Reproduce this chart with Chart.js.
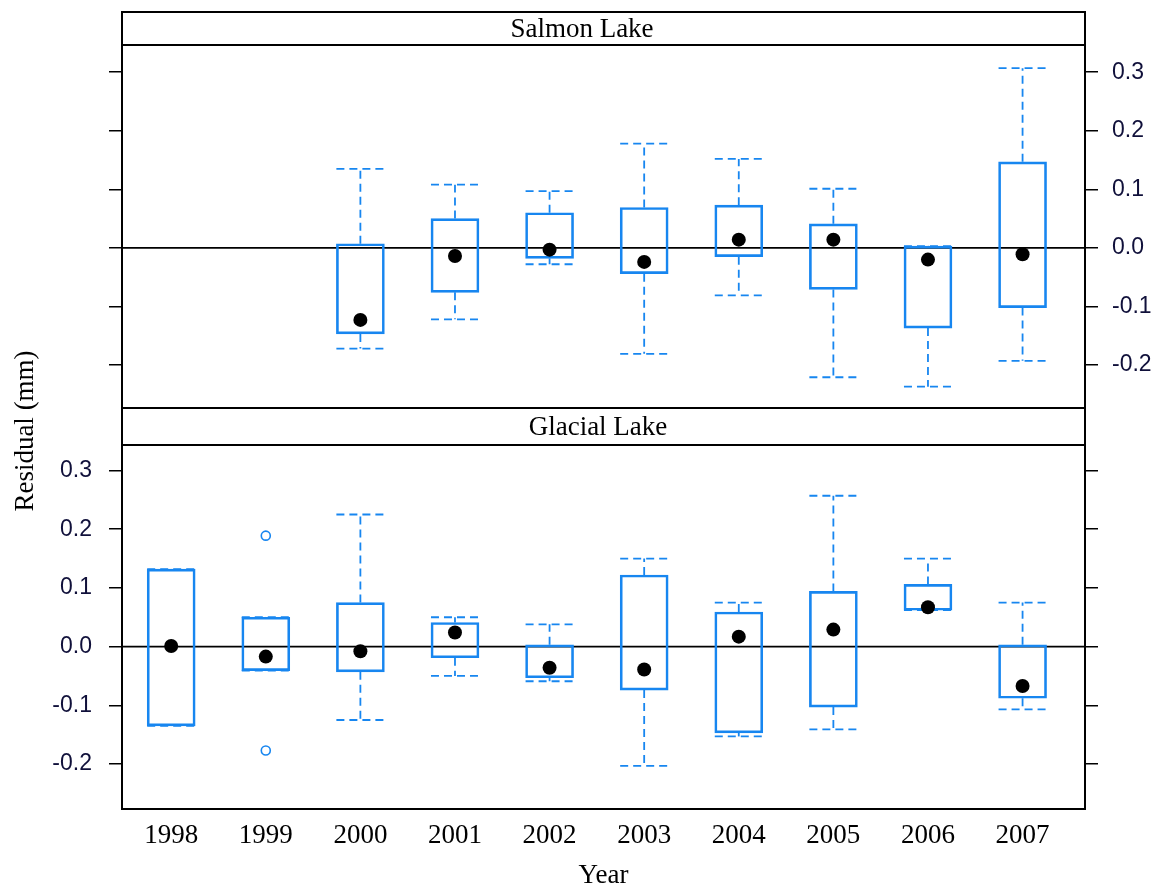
<!DOCTYPE html>
<html>
<head>
<meta charset="utf-8">
<script src="https://cdn.jsdelivr.net/npm/chart.js@4.4.1/dist/chart.umd.min.js"></script>
<style>
html, body { margin: 0; padding: 0; background: #ffffff; }
#wrap { position: relative; width: 1157px; height: 888px; }
#wrap canvas { position: absolute; left: 0; top: 0; }
</style>
</head>
<body>
<div id="wrap">
  <canvas id="cBottom" width="1157" height="888"></canvas>
  <canvas id="cTop" width="1157" height="888"></canvas>
</div>
<script>
// ---------------- data ----------------
const years = [1998, 1999, 2000, 2001, 2002, 2003, 2004, 2005, 2006, 2007];
const yTickValues = [-0.2, -0.1, 0.0, 0.1, 0.2, 0.3];
const yTickLabels = ['-0.2', '-0.1', '0.0', '0.1', '0.2', '0.3'];
const panelNames = ['Salmon Lake', 'Glacial Lake'];
const xTitle = 'Year';
const yTitle = 'Residual (mm)';

// Salmon Lake (no data for 1998, 1999)
const salmonMin  = [null, null, -0.172, -0.122, -0.028, -0.181, -0.081, -0.221, -0.237, -0.193];
const salmonQ1   = [null, null, -0.147, -0.076, -0.018, -0.044, -0.015, -0.071, -0.137, -0.102];
const salmonQ3   = [null, null,  0.007,  0.050,  0.060,  0.069,  0.073,  0.041,  0.003,  0.147];
const salmonMax  = [null, null,  0.135,  0.108,  0.097,  0.178,  0.152,  0.101,  0.003,  0.307];
const salmonMean = [null, null, -0.123, -0.014, -0.003, -0.024,  0.014,  0.014, -0.020, -0.011];

// Glacial Lake
const glacialMin  = [-0.135, -0.041, -0.125, -0.050, -0.059, -0.203, -0.153, -0.141, 0.062, -0.107];
const glacialQ1   = [-0.135, -0.041, -0.043, -0.019, -0.053, -0.074, -0.147, -0.103, 0.062, -0.088];
const glacialQ3   = [ 0.132,  0.050,  0.075,  0.041,  0.003,  0.122,  0.059,  0.094, 0.106,  0.003];
const glacialMax  = [ 0.132,  0.050,  0.225,  0.050,  0.038,  0.150,  0.075,  0.257, 0.150,  0.075];
const glacialMean = [ 0.001, -0.017, -0.008,  0.024, -0.036, -0.039,  0.017,  0.029, 0.067, -0.067];
const glacialOutlierYears  = [1999, 1999];
const glacialOutlierValues = [0.189, -0.177];

// ---------------- style ----------------
const BLUE = '#1786f0';
const BOX_W = 48;
const X_MIN = 1997.48, X_MAX = 2007.66;
const SERIF = '"Liberation Serif", "Times New Roman", serif';
const SANS = '"Liberation Sans", Arial, sans-serif';
const TICK_COLOR = '#10103a';

function boxData(q1, q3) {
  const out = [];
  years.forEach((yr, i) => { if (q1[i] != null) out.push({ x: yr, y: [q1[i], q3[i]] }); });
  return out;
}
function pointData(vals) {
  const out = [];
  years.forEach((yr, i) => { if (vals[i] != null) out.push({ x: yr, y: vals[i] }); });
  return out;
}

function panelPlugin(spec) {
  return {
    id: 'panel_' + spec.key,
    beforeDatasetsDraw(chart) {
      const { ctx, chartArea: a } = chart;
      const xs = chart.scales.x, ys = chart.scales.y;
      ctx.save();
      // reference line at zero
      ctx.strokeStyle = '#000';
      ctx.lineWidth = 1.6;
      const y0 = ys.getPixelForValue(0);
      ctx.beginPath(); ctx.moveTo(a.left, y0); ctx.lineTo(a.right, y0); ctx.stroke();
      // whiskers
      ctx.strokeStyle = BLUE;
      ctx.lineWidth = 1.8;
      ctx.setLineDash([8, 5]);
      years.forEach((yr, i) => {
        if (spec.q1[i] == null) return;
        const px = xs.getPixelForValue(yr);
        [[spec.q1[i], spec.min[i]], [spec.q3[i], spec.max[i]]].forEach(([h, w]) => {
          const ph = ys.getPixelForValue(h), pw = ys.getPixelForValue(w);
          ctx.beginPath(); ctx.moveTo(px, ph); ctx.lineTo(px, pw); ctx.stroke();
          ctx.beginPath(); ctx.moveTo(px - BOX_W / 2, pw); ctx.lineTo(px + BOX_W / 2, pw); ctx.stroke();
        });
      });
      ctx.restore();
    },
    afterDraw(chart) {
      const { ctx, chartArea: a } = chart;
      ctx.save();
      ctx.setLineDash([]);
      ctx.strokeStyle = '#000';
      ctx.lineWidth = 2;
      ctx.strokeRect(a.left, spec.stripTop, a.right - a.left, a.bottom - spec.stripTop);
      ctx.beginPath(); ctx.moveTo(a.left, a.top); ctx.lineTo(a.right, a.top); ctx.stroke();
      ctx.fillStyle = '#000';
      ctx.font = '27px ' + SERIF;
      ctx.textAlign = 'center';
      ctx.textBaseline = 'middle';
      ctx.fillText(spec.name, spec.nameX, (spec.stripTop + a.top) / 2 + 1);
      if (spec.drawYTitle) {
        ctx.translate(33, 431);
        ctx.rotate(-Math.PI / 2);
        ctx.font = '27px ' + SERIF;
        ctx.textBaseline = 'alphabetic';
        ctx.fillText(yTitle, 0, 0);
      }
      ctx.restore();
    }
  };
}

function yAxis(pos, labeled, min, max) {
  return {
    type: 'linear',
    position: pos,
    min: min, max: max,
    afterBuildTicks: s => { s.ticks = yTickValues.map(v => ({ value: v })); },
    afterFit: s => { s.width = pos === 'left' ? 122 : 72; },
    grid: { display: true, drawOnChartArea: false, drawTicks: true, tickLength: 13, color: '#000', lineWidth: 1.5 },
    border: { display: false },
    ticks: {
      display: labeled,
      padding: pos === 'left' ? 17 : 14,
      color: TICK_COLOR,
      font: { family: SANS, size: 23 },
      callback: (v, i) => yTickLabels[i]
    }
  };
}

function makeChart(canvasId, spec) {
  const showX = spec.showX;
  const scales = {
    x: {
      type: 'linear', min: X_MIN, max: X_MAX, offset: false,
      display: showX,
      afterBuildTicks: s => { s.ticks = years.map(v => ({ value: v })); },
      afterFit: s => { s.height = showX ? 79 : 0; },
      grid: { display: false, drawTicks: false },
      border: { display: false },
      ticks: {
        autoSkip: false, maxRotation: 0, padding: 11, color: '#000',
        font: { family: SERIF, size: 27 },
        callback: (v, i) => String(years[i])
      },
      title: { display: true, text: xTitle, color: '#000', padding: 0,
               font: { family: SERIF, size: 27, lineHeight: 0.9 } }
    },
    y: yAxis(spec.labelSide, true, spec.yMin, spec.yMax),
    yOther: yAxis(spec.labelSide === 'left' ? 'right' : 'left', false, spec.yMin, spec.yMax)
  };
  const datasets = [
    {
      type: 'bar', label: 'box', order: 3,
      data: boxData(spec.q1, spec.q3),
      backgroundColor: 'rgba(0,0,0,0)', borderColor: BLUE, borderWidth: 2,
      borderSkipped: false, barThickness: BOX_W, yAxisID: 'y'
    },
    {
      type: 'line', label: 'mean', order: 1, showLine: false,
      data: pointData(spec.mean),
      pointRadius: 7, pointHoverRadius: 7, pointBackgroundColor: '#000', pointBorderColor: '#000',
      pointBorderWidth: 0, yAxisID: 'y'
    }
  ];
  if (spec.outliers) {
    datasets.push({
      type: 'line', label: 'outliers', order: 2, showLine: false,
      data: spec.outliers,
      pointRadius: 4.5, pointBackgroundColor: 'rgba(0,0,0,0)', pointBorderColor: BLUE,
      pointBorderWidth: 1.6, yAxisID: 'y'
    });
  }
  return new Chart(document.getElementById(canvasId), {
    type: 'bar',
    data: { datasets },
    options: {
      responsive: false, animation: false, events: [],
      layout: { autoPadding: false, padding: spec.padding },
      plugins: { legend: { display: false }, tooltip: { enabled: false }, title: { display: false } },
      scales
    },
    plugins: [panelPlugin(spec)]
  });
}

makeChart('cTop', {
  key: 'salmon', name: panelNames[0], nameX: 582, stripTop: 12,
  q1: salmonQ1, q3: salmonQ3, min: salmonMin, max: salmonMax, mean: salmonMean,
  labelSide: 'right', yMin: -0.2735, yMax: 0.3465, showX: false,
  padding: { top: 45, bottom: 480, left: 0, right: 0 }
});

makeChart('cBottom', {
  key: 'glacial', name: panelNames[1], nameX: 598, stripTop: 408,
  q1: glacialQ1, q3: glacialQ3, min: glacialMin, max: glacialMax, mean: glacialMean,
  outliers: glacialOutlierYears.map((yr, i) => ({ x: yr, y: glacialOutlierValues[i] })),
  labelSide: 'left', yMin: -0.2766, yMax: 0.3434, showX: true, drawYTitle: true,
  padding: { top: 445, bottom: 0, left: 0, right: 0 }
});
</script>
</body>
</html>
